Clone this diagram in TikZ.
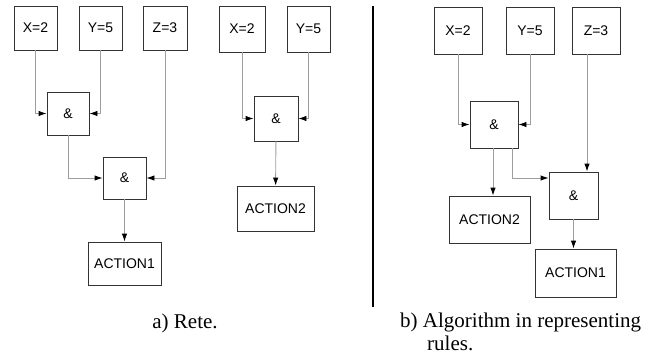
\documentclass[tikz,border=0pt]{standalone}
\usepackage{fontspec}
\setmainfont{Liberation Serif}
\newfontfamily\boxfont{Liberation Sans}
\usetikzlibrary{arrows.meta}
\tikzset{
	cell/.style={draw=black!80, line width=0.9pt, rectangle, inner sep=0pt, font=\boxfont\fontsize{14}{16}\selectfont},
	wire/.style={draw=black!38, line width=0.9pt, -{Latex[length=8pt,width=5.5pt,color=black]}},
	caption/.style={font=\fontsize{21}{23}\selectfont, inner sep=0pt}
}
\begin{document}
\begin{tikzpicture}[x=1pt,y=-1pt]
	\useasboundingbox (0,0) rectangle (658,356);
	% a) rete
	\node[cell, minimum width=43pt, minimum height=44pt] (lx) at (35.5,28) {X=2};
	\node[cell, minimum width=43pt, minimum height=44pt] (ly) at (100.5,28) {Y=5};
	\node[cell, minimum width=44pt, minimum height=44pt] (lz) at (165,28) {Z=3};
	\node[cell, minimum width=42pt, minimum height=43pt] (land1) at (68,113.5) {\&};
	\node[cell, minimum width=43pt, minimum height=42pt] (land2) at (124.5,178) {\&};
	\node[cell, minimum width=73pt, minimum height=43pt] (lact1) at (124.5,263.5) {ACTION1};
	\node[cell, minimum width=46pt, minimum height=46pt] (mx) at (242,29) {X=2};
	\node[cell, minimum width=43pt, minimum height=46pt] (my) at (308.5,29) {Y=5};
	\node[cell, minimum width=44pt, minimum height=45pt] (mand) at (276,118.5) {\&};
	\node[cell, minimum width=77pt, minimum height=45pt] (mact2) at (275.5,208.5) {ACTION2};
	\draw[wire] (lx) |- (land1);
	\draw[wire] (ly) |- (land1);
	\draw[wire] (land1) |- (land2);
	\draw[wire] (lz) |- (land2);
	\draw[wire] (land2) -- (lact1);
	\draw[wire] (mx) |- (mand);
	\draw[wire] (my) |- (mand);
	\draw[wire] (mand) -- (mact2);
	% b) algorithm
	\node[cell, minimum width=48pt, minimum height=47pt] (rx) at (458,30.5) {X=2};
	\node[cell, minimum width=48pt, minimum height=47pt] (ry) at (530,30.5) {Y=5};
	\node[cell, minimum width=48pt, minimum height=47pt] (rz) at (596,30.5) {Z=3};
	\node[cell, minimum width=48pt, minimum height=47pt] (rand1) at (494,124.5) {\&};
	\node[cell, minimum width=49pt, minimum height=47pt] (rand2) at (573.5,195.5) {\&};
	\node[cell, minimum width=81pt, minimum height=47pt] (ract2) at (489.5,219.5) {ACTION2};
	\node[cell, minimum width=81pt, minimum height=48pt] (ract1) at (575.5,273) {ACTION1};
	\draw[wire] (rx) |- (rand1);
	\draw[wire] (ry) |- (rand1);
	\draw[wire] ([xshift=-1pt]rand1.south) -- ([xshift=-1pt]rand1.south |- ract2.north);
	\draw[wire] ([xshift=18pt]rand1.south) |- ([yshift=17.5pt]rand2.west);
	\draw[wire] ([xshift=-9pt]rz.south) -- ([xshift=-9pt]rz.south |- rand2.north);
	\draw[wire] (rand2) -- (rand2.south |- ract1.north);
	% divider and captions
	\draw[line width=2pt] (373,6) -- (373,307);
	\node[caption, anchor=base] (capa) at (185,328) {a) Rete.};
	\node[caption, anchor=base west] (capb) at (400,327) {b) Algorithm in representing};
	\node[caption, anchor=base west] (capc) at (427,350) {rules.};
\end{tikzpicture}
\end{document}
